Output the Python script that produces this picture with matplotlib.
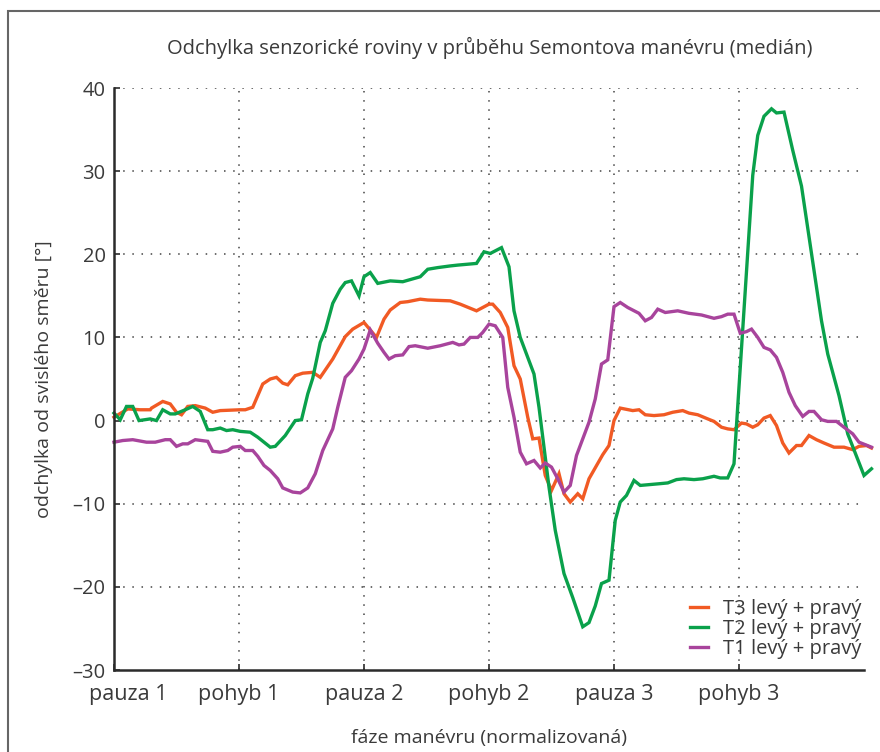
import numpy as np
import matplotlib
matplotlib.use("Agg")
import matplotlib.pyplot as plt
import matplotlib.transforms as mtransforms
from matplotlib.patches import Rectangle

plt.rcParams['font.family'] = ['Open Sans', 'DejaVu Sans']

# phase positions (0 = pauza 1 ... 6 = end) and median deviation in degrees
t3_x = [0.0, 0.11, 0.21, 0.29, 0.30, 0.39, 0.45, 0.50, 0.54, 0.59, 0.65, 0.73, 0.79, 0.85,
        1.01, 1.05, 1.11, 1.15, 1.19, 1.25, 1.30, 1.35, 1.39, 1.45, 1.51, 1.59, 1.65, 1.75,
        1.85, 1.91, 2.00, 2.10, 2.16, 2.21, 2.29, 2.35, 2.45, 2.51, 2.69, 2.77, 2.90, 3.00,
        3.03, 3.09, 3.15, 3.20, 3.25, 3.31, 3.35, 3.40, 3.45, 3.50, 3.56, 3.60, 3.65, 3.71,
        3.75, 3.80, 3.91, 3.96, 4.00, 4.05, 4.15, 4.20, 4.25, 4.32, 4.40, 4.47, 4.55, 4.60,
        4.67, 4.75, 4.80, 4.86, 4.91, 4.96, 5.02, 5.06, 5.11, 5.15, 5.20, 5.25, 5.30, 5.35,
        5.40, 5.46, 5.50, 5.56, 5.62, 5.68, 5.76, 5.84, 5.91, 5.96, 6.02, 6.06]
t3_y = [0.4, 1.4, 1.3, 1.3, 1.5, 2.3, 2.0, 1.0, 0.7, 1.7, 1.8, 1.5, 1.0, 1.2,
        1.3, 1.3, 1.6, 3.0, 4.4, 5.0, 5.2, 4.5, 4.3, 5.4, 5.7, 5.8, 5.2, 7.4,
        10.1, 11.0, 11.8, 10.0, 12.2, 13.3, 14.2, 14.3, 14.6, 14.5, 14.4, 14.0, 13.2, 14.0,
        14.0, 13.0, 11.2, 6.6, 5.0, 0.4, -2.2, -2.1, -6.6, -8.4, -6.4, -8.8, -9.8, -8.8,
        -9.4, -7.0, -4.1, -3.0, 0.0, 1.5, 1.2, 1.3, 0.7, 0.6, 0.7, 1.0, 1.2, 0.9,
        0.7, 0.2, -0.1, -0.8, -1.0, -1.1, -0.3, -0.4, -0.8, -0.5, 0.3, 0.6, -0.6, -2.7,
        -3.9, -3.0, -3.0, -1.8, -2.3, -2.7, -3.2, -3.2, -3.5, -3.1, -3.0, -3.3]

t2_x = [0.0, 0.05, 0.10, 0.15, 0.20, 0.29, 0.34, 0.39, 0.45, 0.49, 0.57, 0.63, 0.69, 0.75,
        0.79, 0.85, 0.90, 0.95, 1.01, 1.09, 1.15, 1.25, 1.29, 1.37, 1.45, 1.50, 1.55, 1.59,
        1.65, 1.69, 1.75, 1.81, 1.85, 1.90, 1.96, 2.00, 2.05, 2.11, 2.21, 2.31, 2.45, 2.51,
        2.59, 2.69, 2.75, 2.90, 2.96, 3.01, 3.10, 3.16, 3.20, 3.25, 3.31, 3.36, 3.40, 3.44,
        3.48, 3.53, 3.60, 3.67, 3.75, 3.80, 3.85, 3.90, 3.96, 4.01, 4.05, 4.10, 4.16, 4.21,
        4.36, 4.43, 4.50, 4.56, 4.64, 4.71, 4.80, 4.85, 4.91, 4.96, 5.03, 5.11, 5.15, 5.20,
        5.26, 5.30, 5.36, 5.43, 5.50, 5.58, 5.66, 5.71, 5.80, 5.87, 6.00, 6.06]
t2_y = [0.9, 0.1, 1.7, 1.7, 0.0, 0.2, 0.0, 1.3, 0.8, 0.8, 1.3, 1.7, 1.1, -1.1,
        -1.1, -0.9, -1.2, -1.1, -1.3, -1.4, -2.0, -3.2, -3.1, -1.8, 0.0, 0.1, 3.2, 5.1,
        9.4, 10.8, 14.1, 15.8, 16.6, 16.8, 15.0, 17.3, 17.8, 16.5, 16.8, 16.7, 17.3, 18.2,
        18.4, 18.6, 18.7, 18.9, 20.3, 20.1, 20.8, 18.5, 13.2, 10.0, 7.6, 5.6, 1.6, -3.2,
        -8.0, -13.2, -18.4, -21.3, -24.8, -24.3, -22.3, -19.6, -19.2, -12.0, -9.8, -9.0, -7.2, -7.8,
        -7.6, -7.5, -7.1, -7.0, -7.1, -7.0, -6.7, -6.9, -6.9, -5.2, 11.0, 29.5, 34.3, 36.6,
        37.5, 37.0, 37.1, 32.5, 28.2, 20.1, 12.0, 8.0, 3.0, -1.6, -6.6, -5.8]

t1_x = [0.0, 0.07, 0.15, 0.26, 0.33, 0.41, 0.45, 0.50, 0.55, 0.59, 0.65, 0.75, 0.79, 0.85,
        0.91, 0.95, 1.01, 1.05, 1.11, 1.15, 1.20, 1.25, 1.31, 1.35, 1.43, 1.49, 1.55, 1.61,
        1.67, 1.75, 1.79, 1.85, 1.90, 1.96, 2.00, 2.05, 2.11, 2.16, 2.20, 2.25, 2.31, 2.36,
        2.41, 2.51, 2.61, 2.71, 2.76, 2.80, 2.85, 2.91, 2.95, 3.00, 3.05, 3.11, 3.15, 3.20,
        3.25, 3.30, 3.36, 3.41, 3.45, 3.50, 3.55, 3.60, 3.65, 3.70, 3.80, 3.85, 3.90, 3.95,
        4.00, 4.05, 4.11, 4.20, 4.25, 4.30, 4.35, 4.41, 4.51, 4.60, 4.70, 4.80, 4.86, 4.91,
        4.96, 5.01, 5.06, 5.10, 5.15, 5.20, 5.25, 5.30, 5.35, 5.40, 5.45, 5.51, 5.56, 5.60,
        5.66, 5.71, 5.78, 5.84, 5.91, 5.96, 6.06]
t1_y = [-2.6, -2.4, -2.3, -2.6, -2.6, -2.3, -2.3, -3.1, -2.8, -2.8, -2.3, -2.5, -3.7, -3.8,
        -3.6, -3.2, -3.1, -3.6, -3.6, -4.3, -5.4, -6.0, -7.0, -8.1, -8.6, -8.7, -8.1, -6.4,
        -3.6, -1.0, 1.6, 5.2, 6.0, 7.4, 8.6, 10.9, 9.3, 8.2, 7.4, 7.8, 7.9, 8.9,
        9.0, 8.7, 9.0, 9.4, 9.1, 9.2, 10.0, 10.0, 10.6, 11.6, 11.4, 10.0, 4.0, 0.4,
        -3.8, -5.2, -4.8, -5.7, -5.1, -5.6, -7.0, -8.6, -7.8, -4.2, -0.2, 2.6, 6.8, 7.3,
        13.7, 14.2, 13.6, 12.9, 12.0, 12.4, 13.4, 13.0, 13.2, 12.9, 12.7, 12.3, 12.5, 12.8,
        12.8, 10.5, 10.7, 11.0, 10.0, 8.8, 8.5, 7.6, 5.8, 3.4, 1.8, 0.5, 1.1, 1.1,
        0.1, -0.1, -0.1, -0.8, -1.6, -2.6, -3.2]

phases = ['pauza 1', 'pohyb 1', 'pauza 2', 'pohyb 2', 'pauza 3', 'pohyb 3']
series = [('T3 levý + pravý', t3_x, t3_y, '#f15a24'),
          ('T2 levý + pravý', t2_x, t2_y, '#0aa14b'),
          ('T1 levý + pravý', t1_x, t1_y, '#a8449c')]

txt = '#3a3a3a'
fig = plt.figure(figsize=(8.8, 7.52), dpi=100)
ax = fig.add_axes([114 / 880, 82 / 752, 750 / 880, 582 / 752])

# outer frame
fig.patches.append(Rectangle((8 / 880, -0.05), 1.2, 1.05 - 11 / 752,
                             transform=fig.transFigure, fill=False,
                             edgecolor='#666666', lw=1.5))

for name, xs, ys, c in series:
    ax.plot(xs, ys, color=c, lw=2.4, label=name, clip_on=False,
            solid_joinstyle='miter')

ax.set_xlim(0, 6)
ax.set_ylim(-30, 40)
ax.set_yticks(np.arange(-30, 41, 10))
ax.set_yticklabels([str(v).replace('-', '\u2013') for v in range(-30, 41, 10)])
ax.set_xticks(range(6))
ax.set_xticklabels(phases)

for v in range(-20, 41, 10):
    ax.plot([0, 6], [v, v], color='#444444', lw=1.1, ls=(0, (1, 5)), zorder=0)
for v in range(1, 6):
    ax.plot([v, v], [-30, 40], color='#444444', lw=1.1, ls=(0, (1, 5)), zorder=0)

for s in ['top', 'right']:
    ax.spines[s].set_visible(False)
for s in ['left', 'bottom']:
    ax.spines[s].set_linewidth(1.8)
    ax.spines[s].set_color('#2b2b2b')

ax.tick_params(direction='in', length=4, width=1.2, colors='#2b2b2b',
               labelcolor=txt, labelsize=14.5)
ax.tick_params(axis='x', labelsize=15.5, pad=10)
ax.tick_params(axis='y', pad=6)

# first phase label sits a bit right of its tick
lab0 = ax.get_xticklabels()[0]
lab0.set_transform(lab0.get_transform() +
                   mtransforms.ScaledTranslation(14 / 100, 0, fig.dpi_scale_trans))

ax.set_xlabel('fáze manévru (normalizovaná)', fontsize=14, color=txt, labelpad=17)
ax.set_ylabel('odchylka od svislého směru [°]', fontsize=14, color=txt, labelpad=14)
fig.text(490 / 880, 1 - 48 / 752, 'Odchylka senzorické roviny v průběhu Semontova manévru (medián)',
         ha='center', va='center', fontsize=14.5, color=txt)

leg = ax.legend(loc='lower right', frameon=False, fontsize=14.5, handlelength=0.9,
                labelspacing=0.0, handletextpad=0.75, borderaxespad=0.3,
                bbox_to_anchor=(1.015, -0.006))
for t in leg.get_texts():
    t.set_color(txt)

fig.savefig('out.png', dpi=100)
